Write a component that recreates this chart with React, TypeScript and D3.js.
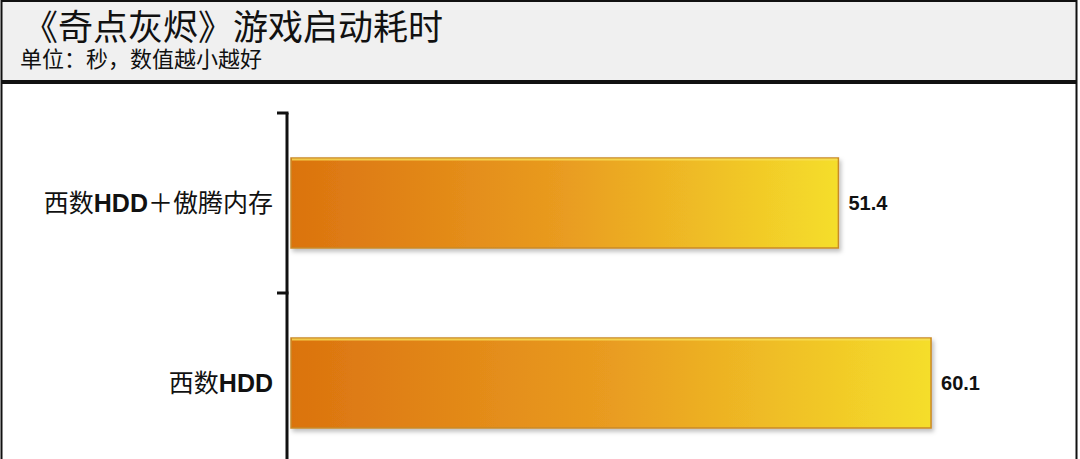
import React from 'react';
import * as d3 from 'd3';

const categories = ['西数HDD＋傲腾内存', '西数HDD'];
const values = [51.4, 60.1];
const title = '《奇点灰烬》游戏启动耗时';
const subtitle = '单位：秒，数值越小越好';

const W = 1080;
const H = 459;
const FONT = '"Liberation Sans", Arial, "Noto Sans CJK SC", sans-serif';

// split a label so latin runs can be drawn bold like the original
const splitLabel = (s: string) => s.split(/([A-Za-z0-9]+)/).filter(p => p.length > 0);

const App: React.FC = () => {
  const y = d3.scaleBand<string>()
    .domain(categories)
    .range([113, 473])
    .paddingInner(0.5)
    .paddingOuter(0.25);

  const x = d3.scaleLinear()
    .domain([0, 70])
    .range([291, 291 + 70 * 10.65]);

  const axisX = 287;
  const [y0, y1] = y.range();
  const boundaries = categories.map((_, i) => y0 + i * y.step()).concat([y1]);

  return (
    <svg width={W} height={H} style={{ position: 'absolute', left: 0, top: 0, background: '#fff' }}>
      <defs>
        <linearGradient id="barGrad" x1="0" y1="0" x2="1" y2="0">
          <stop offset="0" stopColor="#db730f" />
          <stop offset="0.5" stopColor="#e99c20" />
          <stop offset="1" stopColor="#f5de2b" />
        </linearGradient>
        <filter id="shadow" x="-5%" y="-20%" width="110%" height="150%">
          <feDropShadow dx="2" dy="3" stdDeviation="2" floodColor="#000" floodOpacity="0.25" />
        </filter>
      </defs>

      {/* header */}
      <rect x={2} y={2} width={1074} height={79} fill="#f0f0f0" />
      <text x={23} y={40} fontFamily={FONT} fontSize={35} fill="#111">{title}</text>
      <text x={20} y={67} fontFamily={FONT} fontSize={22} fill="#111">{subtitle}</text>
      <rect x={2} y={80} width={1074} height={4} fill="#111" />

      {/* frame */}
      <rect x={1.5} y={1} width={1075} height={H + 10} fill="none" stroke="#111" strokeWidth={2} />

      {/* bars */}
      {categories.map((c, i) => {
        const by = y(c)!;
        const bw = x(values[i]) - x(0);
        return (
          <g key={c}>
            <rect x={x(0)} y={by} width={bw} height={y.bandwidth()}
              fill="url(#barGrad)" stroke="#c98a28" strokeWidth={1.5} filter="url(#shadow)" />
            <line x1={x(0) + 1} x2={x(0) + bw - 1} y1={by + 1.5} y2={by + 1.5}
              stroke="#f8df5a" strokeWidth={2} opacity={0.8} />
            <text x={x(values[i]) + 10} y={by + y.bandwidth() / 2} dy="0.36em"
              fontFamily={FONT} fontSize={20} fontWeight="bold" fill="#111">
              {values[i].toFixed(1)}
            </text>
            <text x={273} y={by + y.bandwidth() / 2} dy="0.36em" textAnchor="end"
              fontFamily={FONT} fontSize={25} fill="#111">
              {splitLabel(c).map((p, k) => (
                <tspan key={k} fontWeight={/[A-Za-z0-9]/.test(p) ? 'bold' : 'normal'}>{p}</tspan>
              ))}
            </text>
          </g>
        );
      })}

      {/* category axis */}
      <line x1={axisX} x2={axisX} y1={y0} y2={y1} stroke="#111" strokeWidth={3} />
      {boundaries.map((b, i) => (
        <line key={i} x1={axisX - 10} x2={axisX + 1.5} y1={b} y2={b} stroke="#111" strokeWidth={3} />
      ))}
    </svg>
  );
};

export default App;
